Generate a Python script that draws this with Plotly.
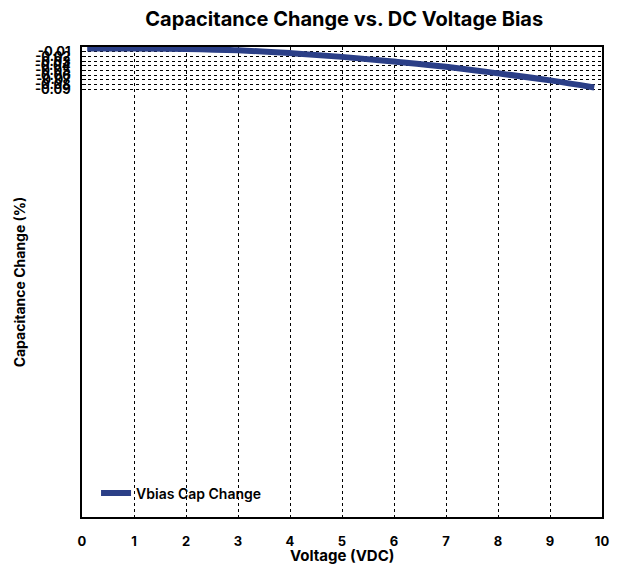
import plotly.graph_objects as go

voltage = [0.1, 1, 2, 3, 4, 5, 6, 7, 8, 9, 9.85]
cap_change = [-0.003, -0.003, -0.004, -0.007, -0.013, -0.021, -0.031, -0.042, -0.056, -0.071, -0.086]
x_ticks = [0, 1, 2, 3, 4, 5, 6, 7, 8, 9, 10]
y_ticks = [-0.01, -0.02, -0.03, -0.04, -0.05, -0.06, -0.07, -0.08, -0.09]
y_tick_labels = ["-0.01", "-0.02", "-0.03", "-0.04", "-0.05", "-0.06", "-0.07", "-0.08", "-0.09"]

fig = go.Figure()
fig.add_trace(go.Scatter(
    x=voltage, y=cap_change, mode="lines", name="Vbias Cap Change",
    line=dict(color="#2B3F87", width=6, shape="spline"),
))

font_family = "Inter, Open Sans, sans-serif"
W, H = 608, 559
fig.update_layout(
    width=W, height=H,
    margin=dict(l=74, r=14, t=39, b=50),
    paper_bgcolor="white", plot_bgcolor="white",
    font=dict(family=font_family, color="black", size=12),
    title=dict(text="<b>Capacitance Change vs. DC Voltage Bias</b>", xref="container", x=0.553,
               xanchor="center", yref="container", y=1 - 11 / H, yanchor="middle",
               font=dict(size=20, family=font_family)),
    showlegend=True,
    legend=dict(x=0.027, y=0.016, xanchor="left", yanchor="bottom", bgcolor="rgba(0,0,0,0)",
                font=dict(size=14, family=font_family, weight=600)),
    annotations=[dict(text="<b>Voltage (VDC)</b>", xref="paper", yref="paper", x=0.5, y=-0.082,
                      xanchor="center", yanchor="middle", showarrow=False,
                      font=dict(size=15, family=font_family))],
)
fig.update_xaxes(
    range=[0, 10], tickvals=x_ticks, ticktext=["<b>%d</b>" % v for v in x_ticks],
    showgrid=True, gridcolor="black", griddash="dot", gridwidth=1,
    showline=True, linecolor="black", linewidth=1.5, mirror=True, automargin=False,
    zeroline=False, ticks="", tickfont=dict(size=13), ticklabelstandoff=12,
)
fig.update_yaxes(
    range=[-1.0, 0], tickvals=y_ticks, ticktext=["<b>%s</b>" % t for t in y_tick_labels],
    showgrid=True, gridcolor="black", griddash="dot", gridwidth=1,
    showline=True, linecolor="black", linewidth=1.5, mirror=True, automargin=False,
    zeroline=False, ticks="inside", ticklen=4, tickcolor="black", tickfont=dict(size=13),
    ticklabelstandoff=7,
    title=dict(text="<b>Capacitance Change (%)</b>", font=dict(size=14), standoff=6),
)
fig.write_html("out.html")
